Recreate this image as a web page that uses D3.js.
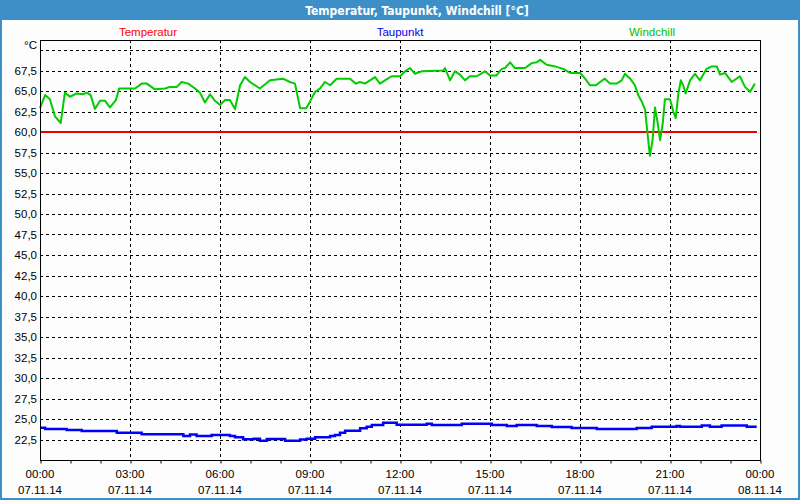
<!DOCTYPE html>
<html>
<head>
<meta charset="utf-8">
<script src="https://cdn.jsdelivr.net/npm/d3@7/dist/d3.min.js"></script>
<style>
  html, body { margin: 0; padding: 0; background: #ffffff; }
  svg { display: block; }
  text { font-family: "Liberation Sans", Arial, sans-serif; }
</style>
</head>
<body>
<svg id="chart" width="800" height="500"></svg>
<script>
// ---- data (hours since 07.11.14 00:00, °C) ----
const titleText = "Temperatur, Taupunkt, Windchill [°C]";
const seriesNames = ["Temperatur", "Taupunkt", "Windchill"];
const xTickHours = [0, 3, 6, 9, 12, 15, 18, 21, 24];
const xTickTimes = ["00:00", "03:00", "06:00", "09:00", "12:00", "15:00", "18:00", "21:00", "00:00"];
const xTickDates = ["07.11.14", "07.11.14", "07.11.14", "07.11.14", "07.11.14", "07.11.14", "07.11.14", "07.11.14", "08.11.14"];
const yTicks = [22.5, 25, 27.5, 30, 32.5, 35, 37.5, 40, 42.5, 45, 47.5, 50, 52.5, 55, 57.5, 60, 62.5, 65, 67.5, 70];
const yUnit = "°C";

const temperatur = [[0, 60.0], [23.9, 60.0]];

const taupunkt = [
  [0, 23.94], [0.17, 23.78], [0.89, 23.66], [1.39, 23.54], [2.56, 23.33], [3.39, 23.13],
  [4.78, 22.93], [5.0, 23.1], [5.22, 22.93], [5.72, 23.05], [6.33, 22.93], [6.5, 22.77],
  [6.77, 22.52], [7.13, 22.6], [7.33, 22.35], [7.56, 22.56], [8.17, 22.35], [8.67, 22.5],
  [8.89, 22.6], [9.17, 22.77], [9.67, 22.93], [9.83, 23.05], [10.0, 23.33], [10.17, 23.57],
  [10.67, 23.86], [10.89, 24.06], [11.06, 24.27], [11.44, 24.55], [11.89, 24.3],
  [12.89, 24.43], [13.06, 24.27], [14.06, 24.43], [15.06, 24.27], [15.56, 24.15],
  [15.89, 24.27], [16.56, 24.15], [17.06, 24.02], [17.72, 23.9], [18.56, 23.78],
  [19.89, 23.9], [20.39, 24.06], [21.22, 24.14], [21.33, 24.06], [22.06, 24.2],
  [22.33, 24.06], [22.72, 24.2], [23.56, 24.06], [23.89, 24.06]
];

const windchill = [
  [0, 62.9], [0.17, 64.5], [0.33, 64.0], [0.5, 61.9], [0.69, 61.1], [0.83, 64.8], [1.0, 64.3],
  [1.22, 64.7], [1.43, 64.6], [1.56, 64.8], [1.69, 64.5], [1.83, 62.8], [2.0, 63.8], [2.17, 63.8],
  [2.33, 63.0], [2.53, 63.9], [2.64, 65.3], [3.17, 65.3], [3.39, 65.9], [3.56, 65.9], [3.83, 65.2],
  [4.17, 65.3], [4.33, 65.5], [4.56, 65.5], [4.72, 66.1], [4.94, 65.9], [5.17, 65.3], [5.33, 64.8],
  [5.5, 63.6], [5.67, 64.6], [5.83, 63.8], [6.0, 63.3], [6.17, 63.9], [6.33, 63.9], [6.5, 62.8],
  [6.67, 65.7], [6.83, 66.7], [7.0, 66.1], [7.33, 65.3], [7.67, 66.3], [8.1, 66.5], [8.33, 66.1],
  [8.5, 65.9], [8.67, 62.9], [8.87, 62.9], [9.0, 63.7], [9.17, 64.9], [9.33, 65.3], [9.5, 66.1],
  [9.67, 65.7], [9.89, 66.5], [10.33, 66.5], [10.53, 65.9], [10.67, 66.1], [10.83, 65.9],
  [11.17, 66.7], [11.33, 65.9], [11.5, 66.3], [11.72, 66.8], [12.0, 66.8], [12.17, 67.4],
  [12.33, 67.8], [12.5, 67.1], [12.72, 67.4], [13.44, 67.5], [13.5, 67.8], [13.67, 66.3],
  [13.83, 67.4], [14.0, 67.0], [14.17, 66.3], [14.33, 66.8], [14.56, 66.8], [14.83, 67.4],
  [15.0, 66.9], [15.22, 66.9], [15.39, 67.7], [15.5, 67.8], [15.67, 68.5], [15.83, 67.8],
  [16.17, 67.8], [16.39, 68.4], [16.56, 68.5], [16.67, 68.8], [16.89, 68.2], [17.17, 68.0],
  [17.44, 67.7], [17.67, 67.2], [18.0, 67.2], [18.17, 66.5], [18.33, 65.7], [18.53, 65.7],
  [18.67, 66.1], [18.83, 66.5], [19.0, 65.9], [19.22, 65.9], [19.39, 66.3], [19.5, 67.1],
  [19.67, 66.5], [19.83, 65.7], [19.94, 64.5], [20.06, 63.7], [20.17, 62.7], [20.24, 60.2],
  [20.33, 57.1], [20.42, 59.0], [20.5, 63.0], [20.58, 61.3], [20.67, 59.0], [20.76, 61.1],
  [20.83, 64.0], [21.0, 64.0], [21.11, 62.5], [21.19, 61.7], [21.22, 62.7], [21.28, 64.7],
  [21.36, 66.3], [21.44, 65.7], [21.52, 64.7], [21.67, 66.3], [21.83, 67.1], [22.0, 66.3],
  [22.22, 67.7], [22.39, 68.0], [22.56, 68.0], [22.67, 67.0], [22.83, 67.2], [23.06, 66.1],
  [23.33, 66.8], [23.5, 65.5], [23.67, 64.9], [23.83, 65.9]
];

// ---- layout ----
const W = 800, H = 500;
const plot = { left: 40, right: 760, top: 40, bottom: 460 };
const colors = { temp: "#ee0000", dew: "#0000ff", wind: "#00cc00", frame: "#3d8fc7" };
const legendColors = ["#ff0000", "#0000ee", "#00c000"];
const labelSize = "11.5px";

const svg = d3.select("#chart");

// frame
svg.append("rect").attr("x", 0).attr("y", 0).attr("width", W).attr("height", H).attr("fill", colors.frame);
svg.append("rect").attr("x", 2).attr("y", 20).attr("width", W - 4).attr("height", H - 22).attr("fill", "#fcfdfc");
svg.append("text").attr("x", 417).attr("y", 15).attr("text-anchor", "middle")
  .attr("fill", "#ffffff").attr("font-weight", "bold").attr("font-size", "12px")
  .style("font-family", "'DejaVu Sans Condensed', 'DejaVu Sans', sans-serif")
  .text(titleText);

const x = d3.scaleLinear().domain([0, 24]).range([plot.left, plot.right]);
const y = d3.scaleLinear().domain([20, 70]).range([plot.bottom, 50]);

// legend
const legendX = [148, 400, 652];
seriesNames.forEach((n, i) => {
  svg.append("text").attr("x", legendX[i]).attr("y", 36).attr("text-anchor", "middle")
    .attr("font-size", labelSize).attr("fill", legendColors[i]).text(n);
});

// grid
const g = svg.append("g");
g.selectAll("line.hg").data(yTicks).enter().append("line")
  .attr("x1", plot.left).attr("x2", plot.right)
  .attr("y1", d => Math.round(y(d)) + 0.5).attr("y2", d => Math.round(y(d)) + 0.5)
  .attr("stroke", "#000").attr("stroke-width", 1).attr("stroke-dasharray", "3,3");
g.selectAll("line.vg").data(xTickHours.slice(1, -1)).enter().append("line")
  .attr("x1", d => Math.round(x(d)) + 0.5).attr("x2", d => Math.round(x(d)) + 0.5)
  .attr("y1", plot.top).attr("y2", plot.bottom)
  .attr("stroke", "#000").attr("stroke-width", 1).attr("stroke-dasharray", "3,3");

// y labels
const fmt = d => d3.format(".1f")(d).replace(".", ",");
svg.selectAll("text.yl").data(yTicks.filter(d => d < 70)).enter().append("text")
  .attr("x", 37).attr("y", d => y(d) + 4).attr("text-anchor", "end")
  .attr("font-size", labelSize).attr("fill", "#000").text(fmt);
svg.append("text").attr("x", 37).attr("y", 49).attr("text-anchor", "end")
  .attr("font-size", labelSize).attr("fill", "#000").text(yUnit);

// x axis ticks (hourly)
const xAxis = d3.axisBottom(x).tickValues(d3.range(0, 25)).tickSize(3).tickFormat("");
const ax = svg.append("g").attr("transform", `translate(0.5,${plot.bottom + 0.5})`).call(xAxis);
ax.select(".domain").remove();
ax.selectAll("line").attr("stroke", "#000");

// x labels
xTickHours.forEach((h, i) => {
  svg.append("text").attr("x", x(h)).attr("y", 478).attr("text-anchor", "middle")
    .attr("font-size", labelSize).attr("fill", "#000").text(xTickTimes[i]);
  svg.append("text").attr("x", x(h)).attr("y", 494).attr("text-anchor", "middle")
    .attr("font-size", labelSize).attr("fill", "#000").text(xTickDates[i]);
});

// series
const line = d3.line().x(d => x(d[0])).y(d => y(d[1]));
const stepLine = d3.line().x(d => x(d[0])).y(d => y(d[1])).curve(d3.curveStepAfter);
svg.append("path").datum(temperatur).attr("d", line).attr("fill", "none")
  .attr("stroke", colors.temp).attr("stroke-width", 2);
svg.append("path").datum(taupunkt).attr("d", stepLine).attr("fill", "none")
  .attr("stroke", colors.dew).attr("stroke-width", 2.5);
svg.append("path").datum(windchill).attr("d", line).attr("fill", "none")
  .attr("stroke", colors.wind).attr("stroke-width", 2).attr("stroke-linejoin", "round");

// plot border
svg.append("rect").attr("x", plot.left + 0.5).attr("y", plot.top + 0.5)
  .attr("width", plot.right - plot.left).attr("height", plot.bottom - plot.top)
  .attr("fill", "none").attr("stroke", "#000").attr("stroke-width", 1);
</script>
</body>
</html>
